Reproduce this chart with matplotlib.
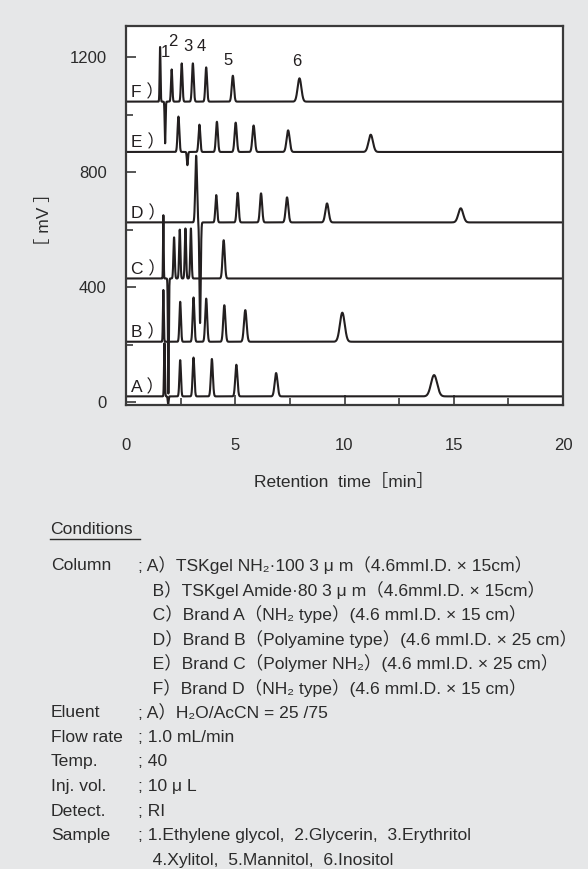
import numpy as np
import matplotlib.pyplot as plt
from matplotlib.lines import Line2D

W, H = 588, 869
BG = '#e6e7e8'
INK = '#231f20'
FONT = ['Liberation Sans', 'Noto Sans CJK JP', 'DejaVu Sans']
plt.rcParams['font.family'] = FONT

# peak tables: retention time [min], height [mV], width (sigma) [min]
traces = ['A', 'B', 'C', 'D', 'E', 'F']
baseline = [20, 210, 430, 625, 870, 1045]
rt = [
    [1.76, 1.93, 2.48, 3.09, 3.93, 5.05, 6.87, 14.1],
    [1.71, 2.48, 3.09, 3.67, 4.50, 5.46, 9.90],
    [1.71, 1.94, 2.20, 2.46, 2.72, 2.97, 4.47],
    [3.21, 3.39, 4.13, 5.11, 6.18, 7.37, 9.20, 15.32],
    [2.40, 2.81, 3.36, 4.16, 5.02, 5.84, 7.42, 11.20],
    [1.56, 1.79, 2.09, 2.55, 3.06, 3.67, 4.89, 7.94],
]
height = [
    [185, -28, 126, 135, 130, 110, 81, 74],
    [180, 139, 154, 150, 127, 110, 101],
    [220, -400, 143, 170, 174, 174, 133],
    [232, -350, 95, 103, 101, 87, 66, 49],
    [123, -46, 95, 105, 102, 92, 75, 60],
    [190, -145, 112, 133, 133, 119, 90, 81],
]
sigma = [
    [0.02, 0.02, 0.035, 0.04, 0.045, 0.05, 0.065, 0.14],
    [0.02, 0.035, 0.04, 0.045, 0.05, 0.06, 0.11],
    [0.015, 0.02, 0.03, 0.03, 0.03, 0.03, 0.05],
    [0.04, 0.03, 0.04, 0.045, 0.05, 0.06, 0.075, 0.11],
    [0.04, 0.025, 0.04, 0.045, 0.05, 0.055, 0.07, 0.1],
    [0.02, 0.02, 0.03, 0.035, 0.04, 0.04, 0.05, 0.085],
]

# compound numbers over trace F
peak_labels = ['1', '2', '3', '4', '5', '6']
label_t = [1.79, 2.16, 2.84, 3.44, 4.68, 7.8]
label_mv = [1215, 1253, 1236, 1236, 1189, 1183]

x_ticks = [0, 5, 10, 15, 20]
y_ticks = [0, 400, 800, 1200]

conditions = [
    ('Column', '; A）TSKgel NH₂·100 3 μ m（4.6mmI.D. × 15cm）'),
    ('', '   B）TSKgel Amide·80 3 μ m（4.6mmI.D. × 15cm）'),
    ('', '   C）Brand A（NH₂ type）(4.6 mmI.D. × 15 cm）'),
    ('', '   D）Brand B（Polyamine type）(4.6 mmI.D. × 25 cm）'),
    ('', '   E）Brand C（Polymer NH₂）(4.6 mmI.D. × 25 cm）'),
    ('', '   F）Brand D（NH₂ type）(4.6 mmI.D. × 15 cm）'),
    ('Eluent', '; A）H₂O/AcCN = 25 /75'),
    ('Flow rate', '; 1.0 mL/min'),
    ('Temp.', '; 40'),
    ('Inj. vol.', '; 10 μ L'),
    ('Detect.', '; RI'),
    ('Sample', '; 1.Ethylene glycol,  2.Glycerin,  3.Erythritol'),
    ('', '   4.Xylitol,  5.Mannitol,  6.Inositol'),
]


def fx(px):
    return px / W


def fy(py):
    return 1 - py / H


fig = plt.figure(figsize=(W / 100, H / 100), dpi=100)
fig.patch.set_facecolor(BG)
ax = fig.add_axes([fx(126), fy(405), (563 - 126) / W, (405 - 26) / H])
ax.set_facecolor('white')

t = np.linspace(0, 20, 6001)
for i, name in enumerate(traces):
    y = np.full_like(t, baseline[i], dtype=float)
    for r, h, s in zip(rt[i], height[i], sigma[i]):
        y += h * np.exp(-0.5 * ((t - r) / s) ** 2)
    ax.plot(t, y, color=INK, lw=1.5, solid_joinstyle='round')
    ax.text(0.25, baseline[i] + 33, name + ' ）', fontsize=12.5, color=INK,
            va='center', ha='left')

for lab, tx, mv in zip(peak_labels, label_t, label_mv):
    ax.text(tx, mv, lab, fontsize=12, color=INK, ha='center', va='center')

ax.set_xlim(0, 20)
ax.set_ylim(-10, 1308)
ax.set_xticks(x_ticks)
ax.set_yticks(y_ticks)
ax.set_xticks(np.arange(0, 20.1, 2.5), minor=True)
ax.set_yticks(np.arange(0, 1301, 200), minor=True)
ax.tick_params(which='both', direction='in', color='#3a3a3a', width=1.2,
               labelsize=12, labelcolor='#2b2b2b')
ax.tick_params(which='major', length=7)
ax.tick_params(which='minor', length=5)
ax.tick_params(axis='x', pad=24)
ax.tick_params(axis='y', pad=14)
for sp in ax.spines.values():
    sp.set_color('#3a3a3a')
    sp.set_linewidth(1.6)

fig.text(fx(344), fy(482), 'Retention  time［min］', fontsize=12.5,
         color='#2b2b2b', ha='center', va='center')
fig.text(fx(43.5), fy(220), '［ mV ］', fontsize=12.5, color='#2b2b2b',
         ha='center', va='center', rotation=90)

# conditions block
fs = 12.6
fig.text(fx(50), fy(530), 'Conditions', fontsize=fs, color='#2b2b2b',
         ha='left', va='center')
fig.add_artist(Line2D([fx(50), fx(140)], [fy(539), fy(539)],
                      color='#2b2b2b', lw=1.0))
y0 = 565
for k, (lab, val) in enumerate(conditions):
    yy = y0 + k * 24.6
    if lab:
        fig.text(fx(51), fy(yy), lab, fontsize=fs, color='#2b2b2b',
                 ha='left', va='center')
    fig.text(fx(138), fy(yy), val, fontsize=fs, color='#2b2b2b',
             ha='left', va='center')

fig.savefig('out.png', dpi=100, facecolor=BG)
